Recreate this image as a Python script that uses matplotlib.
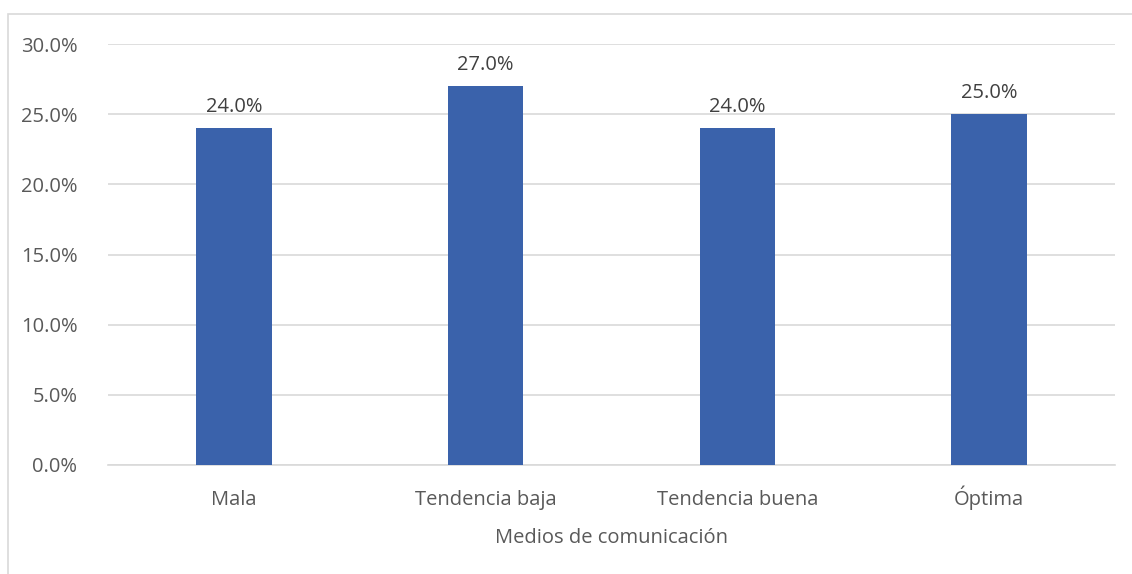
import matplotlib.pyplot as plt
from matplotlib.patches import Rectangle
from matplotlib.ticker import FuncFormatter

categories = ["Mala", "Tendencia baja", "Tendencia buena", "Óptima"]
values = [24.0, 27.0, 24.0, 25.0]
y_ticks = [0, 5, 10, 15, 20, 25, 30]
x_label = "Medios de comunicación"

BAR_COLOR = "#3A62AB"
TEXT_COLOR = "#595959"
GRID_COLOR = "#D9D9D9"

plt.rcParams['font.family'] = ['Open Sans', 'DejaVu Sans']

fig = plt.figure(figsize=(11.32, 5.74), dpi=100)
fig.patch.set_facecolor("white")

# chart frame like the office chart border
fig.add_artist(Rectangle((8 / 1132, -0.1), 1.2, (574 - 14) / 574 + 0.1,
                         transform=fig.transFigure, facecolor="none",
                         edgecolor=GRID_COLOR, linewidth=1.2))

ax = fig.add_axes([108 / 1132, (574 - 465) / 574, (1115 - 108) / 1132, (465 - 44) / 574])

x = range(len(categories))
bars = ax.bar(x, values, width=0.3, color=BAR_COLOR, zorder=3)

for rect, v in zip(bars, values):
    ax.annotate(f"{v:.1f}%", (rect.get_x() + rect.get_width() / 2, v),
                xytext=(0, 8), textcoords="offset points",
                ha="center", va="bottom", fontsize=14.5, color="#404040")

ax.set_ylim(0, 30)
ax.set_xlim(-0.5, len(categories) - 0.5)
ax.set_yticks(y_ticks)
ax.yaxis.set_major_formatter(FuncFormatter(lambda v, _: f"{v:.1f}%"))
ax.set_xticks(list(x))
ax.set_xticklabels(categories)
ax.tick_params(axis="both", length=0, labelsize=14.5, labelcolor=TEXT_COLOR)
ax.tick_params(axis="y", pad=22)
ax.tick_params(axis="x", pad=28.5)
for lbl in ax.get_xticklabels():
    lbl.set_va("baseline")

ax.grid(axis="y", color=GRID_COLOR, linewidth=1.2, zorder=0)
for side in ["top", "right", "left"]:
    ax.spines[side].set_visible(False)
ax.spines["bottom"].set_color(GRID_COLOR)
ax.spines["bottom"].set_linewidth(1.2)

ax.set_xlabel(x_label, fontsize=14.5, color=TEXT_COLOR, va="baseline")
ax.xaxis.set_label_coords(0.5, -(543 - 465) / 421)

plt.savefig("out.png", dpi=100)
